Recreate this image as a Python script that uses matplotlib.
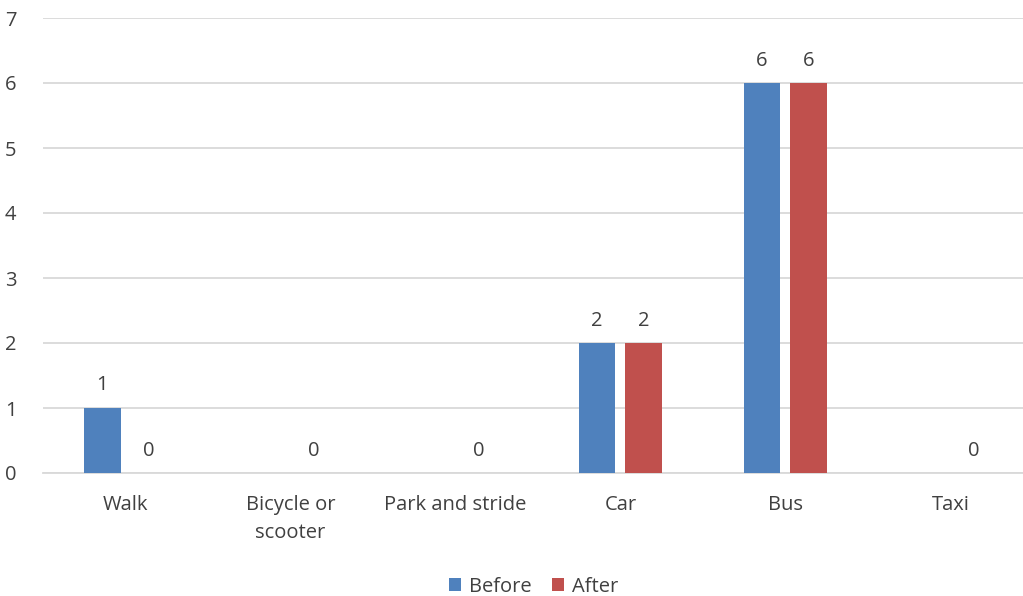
import numpy as np
import matplotlib as mpl
mpl.use("Agg")
import matplotlib.pyplot as plt

categories = ["Walk", "Bicycle or\nscooter", "Park and stride", "Car", "Bus", "Taxi"]
before = [1, None, None, 2, 6, None]
after = [0, 0, 0, 2, 6, 0]

BLUE = "#4F81BD"
RED = "#C0504D"
GRID = "#D9D9D9"
TXT = "#404040"
FS = 14.5

plt.rcParams["font.family"] = ["Open Sans", "DejaVu Sans"]

fig = plt.figure(figsize=(10.23, 5.96), dpi=100)
ax = fig.add_axes([43 / 1023, 1 - 473 / 596, 1 - 43 / 1023, 455 / 596])

x = np.arange(len(categories))
w = 0.224
off = 0.142

b_vals = np.array([np.nan if v is None else v for v in before], dtype=float)
a_vals = np.array(after, dtype=float)

ax.bar(x - off, np.nan_to_num(b_vals), w, color=BLUE, label="Before", zorder=3)
ax.bar(x + off, a_vals, w, color=RED, label="After", zorder=3)

# value labels; blanks in "before" get none
for xi, v in zip(x, b_vals):
    if not np.isnan(v):
        ax.annotate("%d" % v, (xi - off, v), xytext=(0, 9), textcoords="offset points",
                    ha="center", va="bottom", fontsize=FS, color=TXT)
for xi, v in zip(x, a_vals):
    ax.annotate("%d" % v, (xi + off, v), xytext=(0, 9), textcoords="offset points",
                ha="center", va="bottom", fontsize=FS, color=TXT)

ax.set_ylim(0, 7)
ax.set_xlim(-0.5, 5.44)
ax.set_yticks(range(0, 8))
ax.yaxis.grid(True, color=GRID, linewidth=1.3, zorder=0)
ax.set_axisbelow(True)
for s in ["top", "right", "left"]:
    ax.spines[s].set_visible(False)
ax.spines["bottom"].set_color(GRID)
ax.spines["bottom"].set_linewidth(1.3)

ax.set_xticks(x)
ax.set_xticklabels(categories, fontsize=FS, color=TXT, linespacing=1.55)
ax.tick_params(axis="x", length=0, pad=16)
ax.tick_params(axis="y", length=0, pad=19, labelsize=FS, labelcolor=TXT)

leg = fig.legend(loc="lower center", bbox_to_anchor=(0.522, -0.032), ncol=2, frameon=False,
                 fontsize=FS, handlelength=0.6, handleheight=0.6, handletextpad=0.4,
                 columnspacing=1.0)
for t in leg.get_texts():
    t.set_color(TXT)

fig.savefig("out.png", dpi=100)
